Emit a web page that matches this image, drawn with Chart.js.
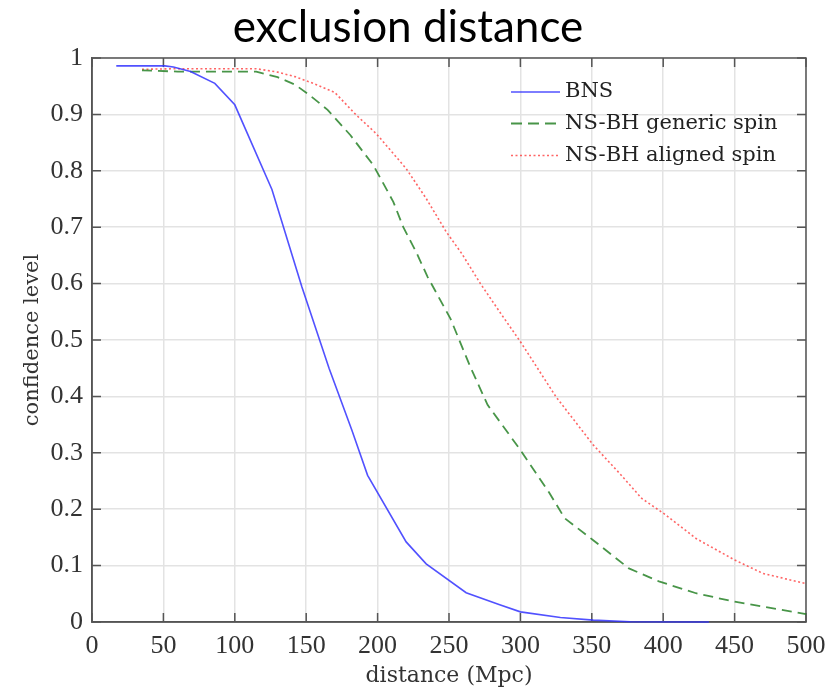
<!DOCTYPE html>
<html>
<head>
<meta charset="utf-8">
<script src="https://cdn.jsdelivr.net/npm/chart.js@4.4.1/dist/chart.umd.min.js"></script>
<style>
  html, body { margin: 0; padding: 0; background: #fff; }
  #wrap { width: 838px; height: 689px; }
</style>
</head>
<body>
<div id="wrap"><canvas id="c" width="838" height="689"></canvas></div>
<script>
// Exclusion confidence level versus distance for three source populations
const chartTitle = 'exclusion distance';
const xAxisTitle = 'distance (Mpc)';
const yAxisTitle = 'confidence level';
const seriesLabels = ['BNS', 'NS-BH generic spin', 'NS-BH aligned spin'];

const xTickLabels = ['0', '50', '100', '150', '200', '250', '300', '350', '400', '450', '500'];
const yTickLabels = ['0', '0.1', '0.2', '0.3', '0.4', '0.5', '0.6', '0.7', '0.8', '0.9', '1'];

const bnsDistance   = [17, 51, 57, 69, 86, 100, 126, 147, 166, 182, 193, 220, 234, 262, 285, 300, 328, 351, 377, 432];
const bnsConfidence = [0.986, 0.986, 0.984, 0.976, 0.955, 0.917, 0.767, 0.594, 0.45, 0.34, 0.26, 0.142, 0.103, 0.052, 0.031, 0.018, 0.008, 0.0034, 0.0005, 0];

const genericDistance   = [35, 60, 90, 115, 130, 142, 152, 165, 181, 197, 211, 218, 227, 235, 251, 265, 277, 300, 320, 331, 351, 376, 397, 423, 450, 475, 500];
const genericConfidence = [0.978, 0.976, 0.976, 0.976, 0.966, 0.953, 0.935, 0.908, 0.863, 0.81, 0.745, 0.70, 0.656, 0.612, 0.538, 0.452, 0.385, 0.305, 0.23, 0.184, 0.145, 0.095, 0.072, 0.051, 0.036, 0.025, 0.014];

const alignedDistance   = [35, 60, 90, 115, 130, 142, 155, 170, 185, 199, 220, 234, 248, 259, 272, 286, 300, 325, 351, 370, 385, 400, 423, 450, 470, 500];
const alignedConfidence = [0.98, 0.981, 0.981, 0.981, 0.975, 0.967, 0.955, 0.939, 0.899, 0.866, 0.804, 0.751, 0.692, 0.653, 0.6, 0.548, 0.497, 0.399, 0.314, 0.262, 0.219, 0.193, 0.148, 0.11, 0.086, 0.068];

const toPoints = (xs, ys) => xs.map((x, i) => ({ x: x, y: ys[i] }));

const serif = 'DejaVu Serif';
const digitFont = 'Liberation Serif';

// Inward tick marks on all four sides plus the closed frame
const frameTicks = {
  id: 'frameTicks',
  beforeDatasetsDraw(chart) {
    const { ctx, chartArea: a, scales } = chart;
    const len = 9;
    ctx.save();
    ctx.strokeStyle = '#555';
    ctx.lineWidth = 1.5;
    ctx.beginPath();
    scales.x.ticks.forEach(t => {
      const px = scales.x.getPixelForValue(t.value);
      ctx.moveTo(px, a.bottom); ctx.lineTo(px, a.bottom - len);
      ctx.moveTo(px, a.top);    ctx.lineTo(px, a.top + len);
    });
    scales.y.ticks.forEach(t => {
      const py = scales.y.getPixelForValue(t.value);
      ctx.moveTo(a.left, py);  ctx.lineTo(a.left + len, py);
      ctx.moveTo(a.right, py); ctx.lineTo(a.right - len, py);
    });
    ctx.stroke();
    ctx.strokeRect(a.left, a.top, a.right - a.left, a.bottom - a.top);
    ctx.restore();
  }
};

// Legend drawn inside the plot, top right
const insideLegend = {
  id: 'insideLegend',
  afterDatasetsDraw(chart) {
    const { ctx, chartArea: a } = chart;
    const x0 = a.right - 295, x1 = a.right - 246, tx = a.right - 241;
    const rowY = [a.top + 34, a.top + 65.5, a.top + 97.5];
    ctx.save();
    chart.data.datasets.forEach((ds, i) => {
      const y = rowY[i];
      ctx.beginPath();
      ctx.strokeStyle = ds.borderColor;
      ctx.lineWidth = ds.borderWidth;
      ctx.setLineDash(ds.legendDash || ds.borderDash || []);
      ctx.moveTo(x0, y); ctx.lineTo(x1, y);
      ctx.stroke();
      ctx.setLineDash([]);
      ctx.fillStyle = '#222';
      ctx.font = '21px "' + serif + '"';
      ctx.textBaseline = 'middle';
      ctx.textAlign = 'left';
      ctx.fillText(ds.label, tx, y);
    });
    ctx.restore();
  }
};

new Chart(document.getElementById('c'), {
  type: 'line',
  data: {
    datasets: [
      {
        label: seriesLabels[0],
        data: toPoints(bnsDistance, bnsConfidence),
        borderColor: 'rgba(50,50,255,0.85)',
        borderWidth: 1.6,
        pointRadius: 0,
        tension: 0,
        clip: 4
      },
      {
        label: seriesLabels[1],
        data: toPoints(genericDistance, genericConfidence),
        borderColor: 'rgba(40,130,40,0.85)',
        borderWidth: 1.8,
        borderDash: [10, 6],
        legendDash: [11, 6],
        pointRadius: 0,
        tension: 0,
        clip: 4
      },
      {
        label: seriesLabels[2],
        data: toPoints(alignedDistance, alignedConfidence),
        borderColor: 'rgba(255,50,50,0.75)',
        borderWidth: 1.6,
        borderDash: [2, 2.5],
        pointRadius: 0,
        tension: 0,
        clip: 4
      }
    ]
  },
  options: {
    responsive: false,
    animation: false,
    layout: { padding: { left: 0, right: 22, top: 0, bottom: 0 } },
    plugins: {
      legend: { display: false },
      tooltip: { enabled: false },
      title: {
        display: true,
        text: chartTitle,
        color: '#000',
        font: { family: 'Lato', size: 44, weight: 'normal', lineHeight: 1 },
        padding: { top: 6, bottom: 8 }
      }
    },
    scales: {
      x: {
        type: 'linear',
        position: 'bottom',
        min: 0, max: 500,
        ticks: {
          stepSize: 50, padding: 9, autoSkip: false, maxRotation: 0,
          color: '#333', font: { family: digitFont, size: 26 },
          callback: (v, i) => xTickLabels[i]
        },
        grid: { color: '#e3e3e3', lineWidth: 1.5, drawTicks: false },
        border: { display: true, color: '#555', width: 1.5 },
        title: {
          display: true, text: xAxisTitle, color: '#333',
          font: { family: serif, size: 22 }, padding: { top: 0, bottom: 0 }
        },
        afterFit(s) { s.height = 67; }
      },
      y: {
        type: 'linear',
        position: 'left',
        min: 0, max: 1,
        ticks: {
          stepSize: 0.1, padding: 9, autoSkip: false,
          color: '#333', font: { family: digitFont, size: 26 },
          callback: (v, i) => yTickLabels[i]
        },
        grid: { color: '#e3e3e3', lineWidth: 1.5, drawTicks: false },
        border: { display: true, color: '#555', width: 1.5 },
        title: {
          display: true, text: yAxisTitle, color: '#333',
          font: { family: serif, size: 21 }, padding: { top: 20, bottom: 0 }
        },
        afterFit(s) { s.width = 92; }
      },
      y2: {
        type: 'linear',
        position: 'right',
        min: 0, max: 1,
        ticks: { display: false },
        grid: { display: false, drawTicks: false },
        border: { display: false },
        afterFit(s) { s.width = 10; }
      }
    }
  },
  plugins: [frameTicks, insideLegend]
});
</script>
</body>
</html>
